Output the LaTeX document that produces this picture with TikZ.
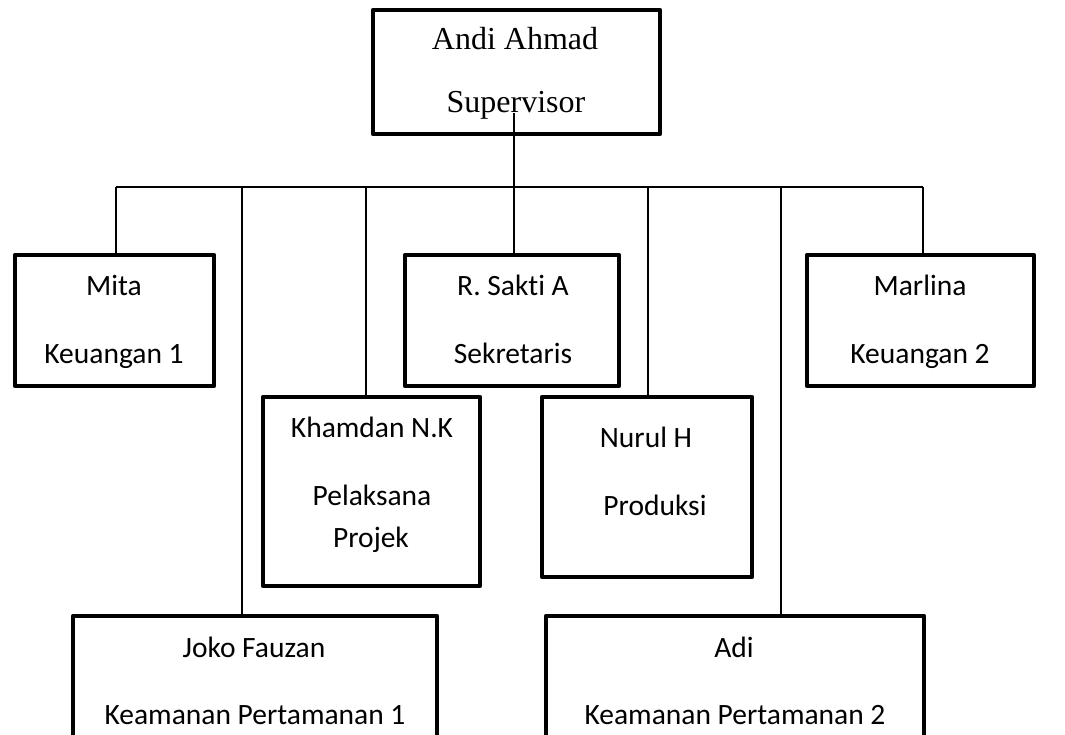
\documentclass[tikz,border=0pt]{standalone}
\usepackage{fontspec}
\setmainfont{Carlito}[Ligatures=NoCommon]
\newfontfamily\serifA{Liberation Serif}
\begin{document}
\begin{tikzpicture}[x=1pt,y=-1pt,
  box/.style={draw, line width=4.5pt, line join=round, rectangle, inner sep=0pt},
  lbl/.style={anchor=base, inner sep=0pt, font=\fontsize{29.5}{35}\selectfont},
  slbl/.style={anchor=base, inner sep=0pt, font=\serifA\fontsize{32}{38}\selectfont},
  conn/.style={draw, line width=1.3pt}]
\useasboundingbox (0,0) rectangle (1065,735);
\clip (0,0) rectangle (1065,735);
% boxes
\node[box, minimum width=287, minimum height=124] (top) at (516.5,72) {};
\node[box, minimum width=199, minimum height=131] (mita) at (114.5,320.5) {};
\node[box, minimum width=214, minimum height=131] (sakti) at (512,320.5) {};
\node[box, minimum width=227, minimum height=131] (marlina) at (920.5,320.5) {};
\node[box, minimum width=217, minimum height=189] (khamdan) at (371.5,491.5) {};
\node[box, minimum width=210, minimum height=180] (nurul) at (647,487) {};
\node[box, minimum width=364, minimum height=130] (joko) at (255,681) {};
\node[box, minimum width=378, minimum height=130] (adi) at (735,681) {};
% texts
\node[slbl] (topA) at (515,50) {Andi Ahmad};
\node[slbl] (topB) at (516,113) {Supervisor};
\node[lbl] (mitaA) at (114,295) {Mita};
\node[lbl] (mitaB) at (114,363) {Keuangan 1};
\node[lbl] (saktiA) at (513,295) {R. Sakti A};
\node[lbl] (saktiB) at (513,363) {Sekretaris};
\node[lbl] (marlinaA) at (920,295) {Marlina};
\node[lbl] (marlinaB) at (920,363) {Keuangan 2};
\node[lbl] (khamdanA) at (372,437) {Khamdan N.K};
\node[lbl] (khamdanB) at (372,505) {Pelaksana};
\node[lbl] (khamdanC) at (371,547) {Projek};
\node[lbl] (nurulA) at (646,447) {Nurul H};
\node[lbl] (nurulB) at (655,515) {Produksi};
\node[lbl] (jokoA) at (254,657) {Joko Fauzan};
\node[lbl] (jokoB) at (255,724) {Keamanan Pertamanan 1};
\node[lbl] (adiA) at (734,657) {Adi};
\node[lbl] (adiB) at (735,724) {Keamanan Pertamanan 2};
% bus coordinates
\coordinate (s0) at (514,113);
\coordinate (b1) at (116,187);
\coordinate (b2) at (242,187);
\coordinate (b3) at (366,187);
\coordinate (b4) at (514,187);
\coordinate (b5) at (648,187);
\coordinate (b6) at (781,187);
\coordinate (b7) at (923,187);
% connectors
\path[conn] (s0) -- (b4);
\path[conn] (b1) -- (b7);
\path[conn] (b1) -- (b1 |- mita.north);
\path[conn] (b2) -- (b2 |- joko.north);
\path[conn] (b3) -- (b3 |- khamdan.north);
\path[conn] (b4) -- (b4 |- sakti.north);
\path[conn] (b5) -- (b5 |- nurul.north);
\path[conn] (b6) -- (b6 |- adi.north);
\path[conn] (b7) -- (b7 |- marlina.north);
\end{tikzpicture}
\end{document}
